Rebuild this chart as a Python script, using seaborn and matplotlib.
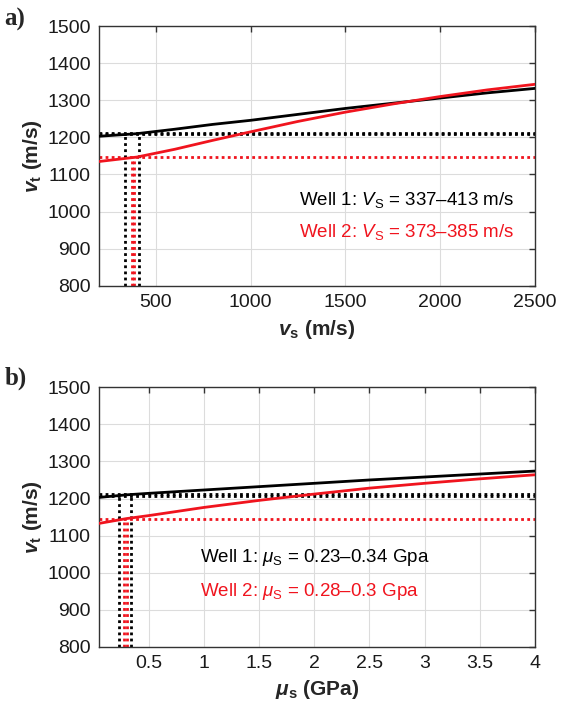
import numpy as np
import pandas as pd
import matplotlib
matplotlib.use('Agg')
import matplotlib.pyplot as plt
import seaborn as sns

sns.set_style('whitegrid')
plt.rcParams['font.family'] = ['Liberation Sans', 'DejaVu Sans']
plt.rcParams['mathtext.fontset'] = 'custom'
plt.rcParams['mathtext.rm'] = 'Liberation Sans'
plt.rcParams['mathtext.it'] = 'Liberation Sans:italic'
plt.rcParams['mathtext.bf'] = 'Liberation Sans:bold'
plt.rcParams['mathtext.bfit'] = 'Liberation Sans:italic:bold'

# ---- panel a: v_t vs v_s ----
vs = [200, 400, 600, 800, 1000, 1250, 1500, 1750, 2000, 2250, 2500]
vt_well1_a = [1203, 1210, 1222, 1235, 1246, 1262, 1278, 1292, 1306, 1320, 1332]
vt_well2_a = [1135, 1147, 1168, 1192, 1215, 1243, 1268, 1290, 1310, 1328, 1343]
vs_range1 = [337, 413]
vs_range2 = [373, 385]
vt_level1_a = [1208, 1212]
vt_level2_a = 1147

# ---- panel b: v_t vs mu_s ----
mu = [0.05, 0.3, 0.5, 1.0, 1.5, 2.0, 2.5, 3.0, 3.5, 4.0]
vt_well1_b = [1203, 1210, 1214, 1223, 1232, 1241, 1250, 1258, 1266, 1274]
vt_well2_b = [1133, 1146, 1154, 1176, 1195, 1212, 1228, 1241, 1253, 1264]
mu_range1 = [0.23, 0.34]
mu_range2 = [0.28, 0.30]
vt_level1_b = [1208, 1212]
vt_level2_b = 1146

RED = '#f0141e'
TICK = 14
TXT = 13.5
LAB = 15

fig = plt.figure(figsize=(5.66, 7.04), dpi=100)
ax1 = fig.add_axes([0.175, 0.594, 0.770, 0.369])
ax2 = fig.add_axes([0.175, 0.081, 0.770, 0.369])


def draw_panel(ax, x, y1, y2, r1, r2, lev1, lev2, xlim):
    df = pd.DataFrame({'x': list(x) * 2, 'vt': list(y1) + list(y2),
                       'well': ['Well 1'] * len(x) + ['Well 2'] * len(x)})
    sns.lineplot(data=df, x='x', y='vt', hue='well', palette=['black', RED],
                 linewidth=2.0, legend=False, ax=ax, zorder=3)
    # dotted guide lines for the picked ranges
    for lv in lev1:
        ax.axhline(lv, color='black', linestyle=(0, (1, 1.2)), linewidth=2.0, zorder=2)
    ax.axhline(lev2, color=RED, linestyle=(0, (1, 1.2)), linewidth=2.0, zorder=2)
    ax.vlines(r1, 800, np.mean(lev1), color='black', linestyle=(0, (1, 1.2)),
              linewidth=2.0, zorder=2)
    ax.vlines(r2, 800, lev2, color=RED, linestyle=(0, (1, 1.2)),
              linewidth=2.0, zorder=2)
    ax.set_xlim(*xlim)
    ax.set_ylim(800, 1500)
    ax.set_yticks(range(800, 1501, 100))
    ax.grid(True, color='#dcdcdc', linewidth=0.8)
    ax.tick_params(direction='in', top=True, right=True, length=4, width=1,
                   color='#333333', labelsize=TICK, labelcolor='#1a1a1a', pad=6)
    for s in ax.spines.values():
        s.set_color('#333333')
        s.set_linewidth(1.0)
    ax.set_ylabel(r'$\mathbfit{v}_\mathbf{t}$ (m/s)', fontsize=LAB,
                  fontweight='bold', labelpad=2)


draw_panel(ax1, vs, vt_well1_a, vt_well2_a, vs_range1, vs_range2,
           vt_level1_a, vt_level2_a, (200, 2500))
ax1.set_xticks([500, 1000, 1500, 2000, 2500])
ax1.set_xlabel(r'$\mathbfit{v}_\mathbf{s}$ (m/s)', fontsize=LAB,
               fontweight='bold', labelpad=5)
ax1.text(0.459, 0.33, r'Well 1: $V_\mathrm{S}$ = 337–413 m/s', transform=ax1.transAxes,
         fontsize=TXT, color='black', va='center')
ax1.text(0.459, 0.207, r'Well 2: $V_\mathrm{S}$ = 373–385 m/s', transform=ax1.transAxes,
         fontsize=TXT, color=RED, va='center')

draw_panel(ax2, mu, vt_well1_b, vt_well2_b, mu_range1, mu_range2,
           vt_level1_b, vt_level2_b, (0.05, 4))
ax2.set_xticks([0.5, 1, 1.5, 2, 2.5, 3, 3.5, 4])
ax2.set_xticklabels(['0.5', '1', '1.5', '2', '2.5', '3', '3.5', '4'])
ax2.set_xlabel(r'$\mathbfit{\mu}_\mathbf{s}$ (GPa)', fontsize=LAB,
               fontweight='bold', labelpad=4)
ax2.text(0.232, 0.345, r'Well 1: $\mathit{\mu}_\mathrm{S}$ = 0.23–0.34 Gpa',
         transform=ax2.transAxes, fontsize=TXT, color='black', va='center')
ax2.text(0.232, 0.215, r'Well 2: $\mathit{\mu}_\mathrm{S}$ = 0.28–0.3 Gpa',
         transform=ax2.transAxes, fontsize=TXT, color=RED, va='center')

fig.text(0.008, 0.972, 'a)', fontsize=18, fontweight='bold',
         family='Liberation Serif', va='center')
fig.text(0.008, 0.462, 'b)', fontsize=18, fontweight='bold',
         family='Liberation Serif', va='center')

fig.savefig('out.png', dpi=100)
